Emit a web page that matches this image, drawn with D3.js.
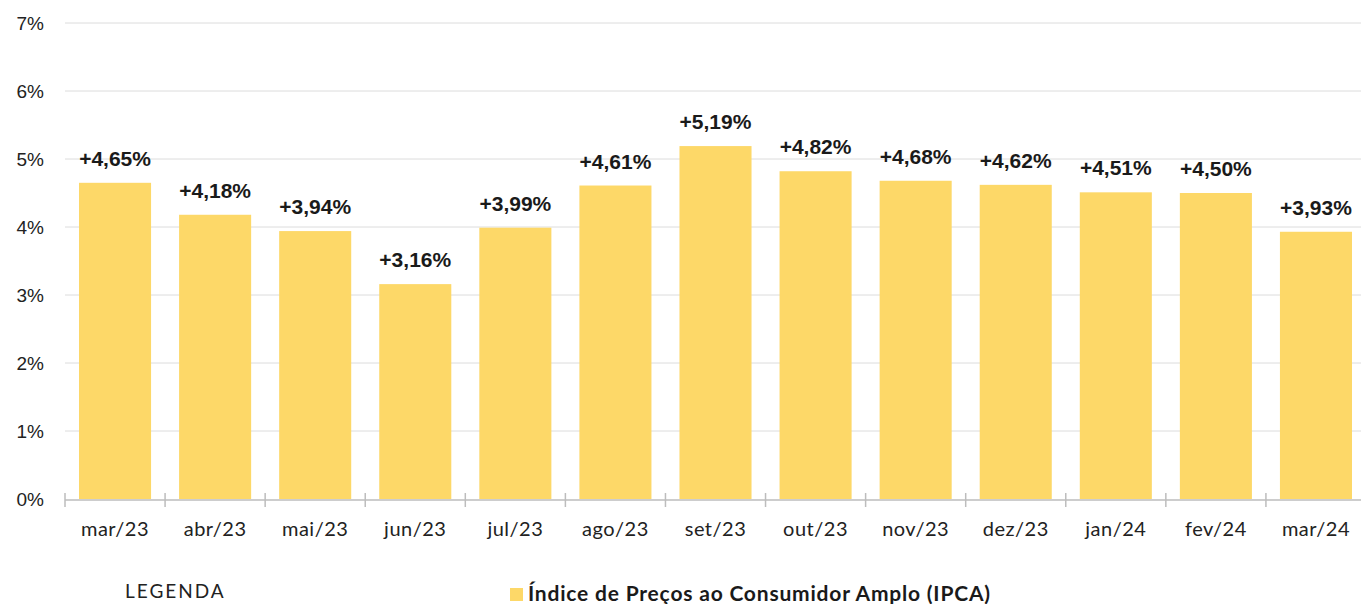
<!DOCTYPE html>
<meta charset="utf-8" />
<script src="https://d3js.org/d3.v7.min.js"></script>
<style>
  body { margin: 0; background: #fff; }
</style>
<body>
  <div id="chart"></div>
  <script>
    // data
    const months = ["mar/23", "abr/23", "mai/23", "jun/23", "jul/23", "ago/23", "set/23",
      "out/23", "nov/23", "dez/23", "jan/24", "fev/24", "mar/24"];
    const ipca = [4.65, 4.18, 3.94, 3.16, 3.99, 4.61, 5.19, 4.82, 4.68, 4.62, 4.51, 4.50, 3.93];
    const yTicks = [0, 1, 2, 3, 4, 5, 6, 7];
    const seriesName = "Índice de Preços ao Consumidor Amplo (IPCA)";

    const width = 1361, height = 604;
    // plot runs a few px past the right edge, like the original
    const margin = { top: 23, right: -5, bottom: 105, left: 65 };
    const barColor = "#fdd868";

    const svg = d3.select("#chart").append("svg")
      .attr("width", width)
      .attr("height", height);

    const x = d3.scaleBand()
      .domain(months)
      .range([margin.left, width - margin.right])
      .paddingInner(0.28)
      .paddingOuter(0.14);

    const y = d3.scaleLinear()
      .domain([0, 7])
      .range([height - margin.bottom, margin.top]);

    // gridlines + y labels
    svg.append("g")
      .selectAll("line")
      .data(yTicks.filter(d => d > 0))
      .join("line")
      .attr("x1", margin.left)
      .attr("x2", width)
      .attr("y1", d => y(d))
      .attr("y2", d => y(d))
      .attr("stroke", "#dcdcdc")
      .attr("stroke-width", 1);

    svg.append("g")
      .selectAll("text")
      .data(yTicks)
      .join("text")
      .attr("x", 44)
      .attr("y", d => y(d))
      .attr("dy", "0.35em")
      .attr("text-anchor", "end")
      .attr("font-family", "Liberation Sans, Arial, sans-serif")
      .attr("font-size", "19px")
      .attr("fill", "#222")
      .text(d => d + "%");

    // bars
    svg.append("g")
      .selectAll("rect")
      .data(ipca)
      .join("rect")
      .attr("x", (d, i) => x(months[i]))
      .attr("y", d => y(d))
      .attr("width", x.bandwidth())
      .attr("height", d => y(0) - y(d))
      .attr("fill", barColor);

    // value labels
    svg.append("g")
      .selectAll("text")
      .data(ipca)
      .join("text")
      .attr("x", (d, i) => x(months[i]) + x.bandwidth() / 2)
      .attr("y", d => y(d) - 17)
      .attr("text-anchor", "middle")
      .attr("font-family", "Liberation Sans, Arial, sans-serif")
      .attr("font-weight", "bold")
      .attr("font-size", "21px")
      .attr("fill", "#1a1a1a")
      .text(d => "+" + d.toFixed(2).replace(".", ",") + "%");

    // x axis: line, boundary ticks, labels
    const base = y(0) + 1;
    const boundaries = d3.range(months.length + 1).map(i => margin.left + i * x.step());
    svg.append("line")
      .attr("x1", margin.left)
      .attr("x2", width)
      .attr("y1", base)
      .attr("y2", base)
      .attr("stroke", "#bdbdbd")
      .attr("stroke-width", 1.5);

    svg.append("g")
      .selectAll("line")
      .data(boundaries)
      .join("line")
      .attr("x1", d => d)
      .attr("x2", d => d)
      .attr("y1", base - 7)
      .attr("y2", base + 7)
      .attr("stroke", "#bdbdbd")
      .attr("stroke-width", 1.5);

    svg.append("g")
      .selectAll("text")
      .data(months)
      .join("text")
      .attr("x", d => x(d) + x.bandwidth() / 2)
      .attr("y", 536)
      .attr("text-anchor", "middle")
      .attr("font-family", "Lato, sans-serif")
      .attr("font-size", "20px")
      .attr("letter-spacing", "0.5px")
      .attr("fill", "#222")
      .text(d => d);

    // legend
    svg.append("text")
      .attr("x", 125)
      .attr("y", 598)
      .attr("font-family", "Lato, sans-serif")
      .attr("font-size", "19px")
      .attr("letter-spacing", "2px")
      .attr("fill", "#222")
      .text("LEGENDA");

    svg.append("rect")
      .attr("x", 510)
      .attr("y", 588)
      .attr("width", 13)
      .attr("height", 13)
      .attr("fill", barColor);

    svg.append("text")
      .attr("x", 528)
      .attr("y", 601)
      .attr("font-family", "Lato, sans-serif")
      .attr("font-weight", "bold")
      .attr("font-size", "21px")
      .attr("letter-spacing", "0.8px")
      .attr("fill", "#1a1a1a")
      .text(seriesName);
  </script>
</body>
